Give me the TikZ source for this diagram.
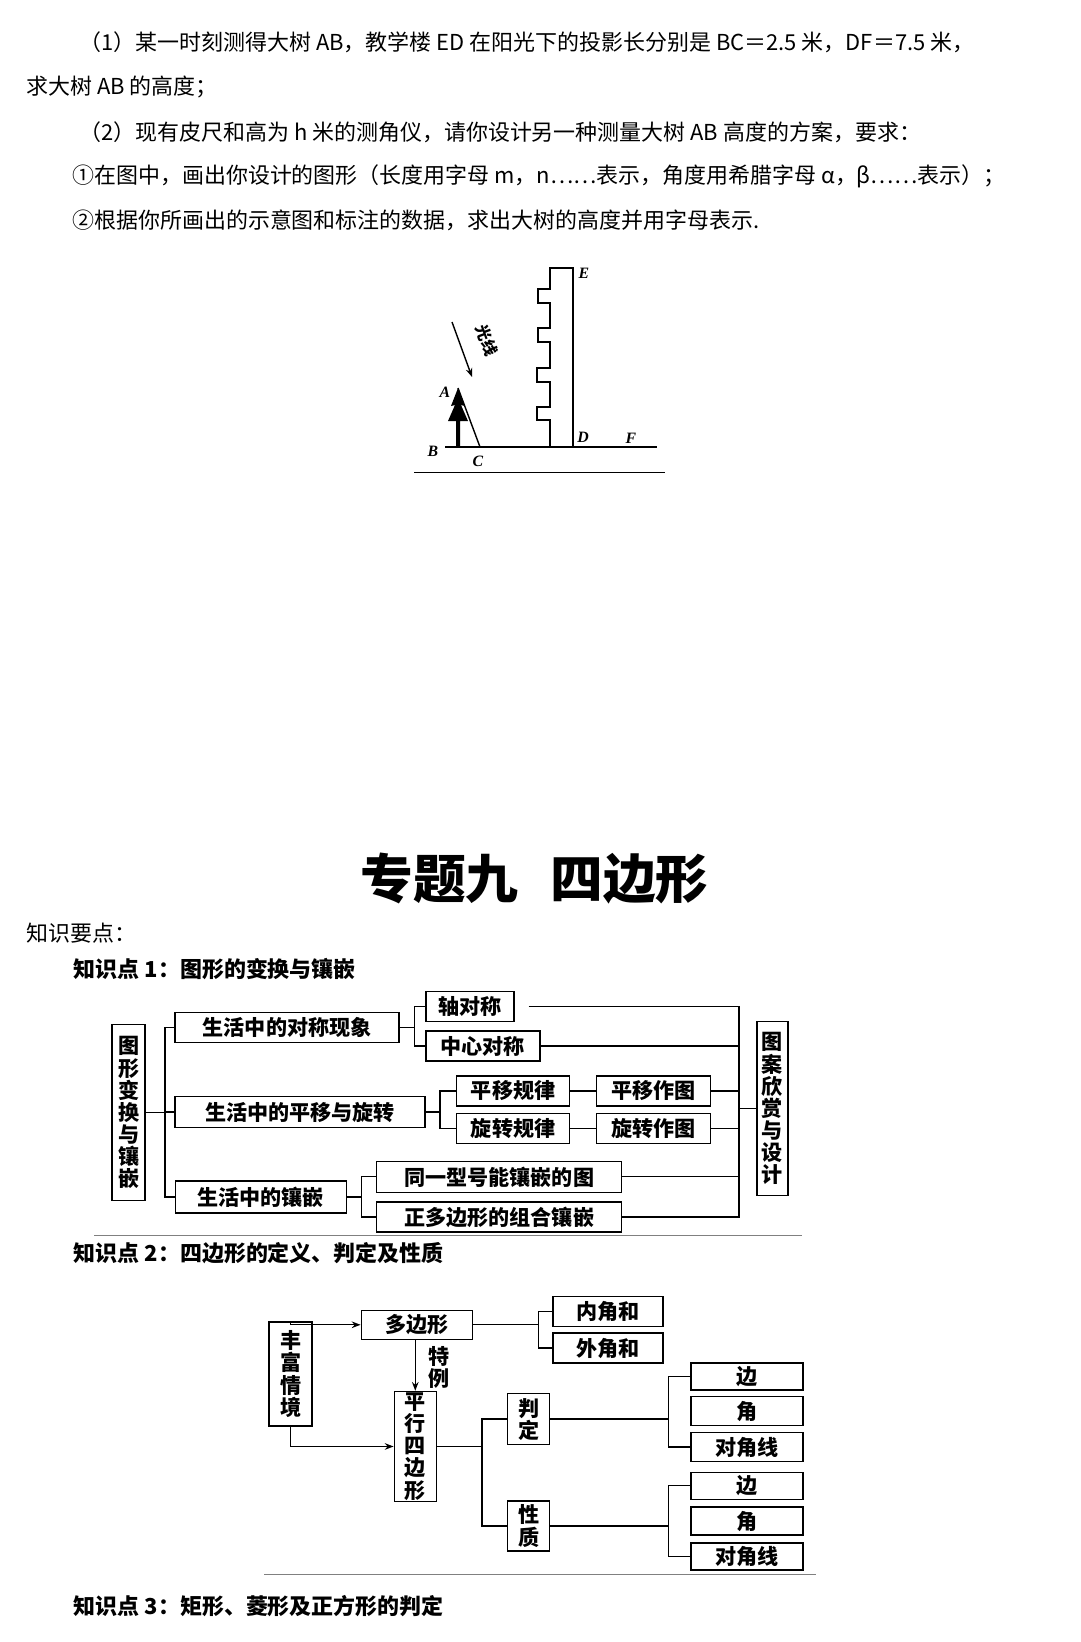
\documentclass[tikz,border=0pt]{standalone}
\usepackage{fontspec}
\setmainfont{Noto Sans CJK SC}
\newfontfamily\lat{Liberation Serif}
\usetikzlibrary{arrows.meta}
\begin{document}
\begin{tikzpicture}[
        x=0.02cm, y=-0.02cm,
        txt/.style={anchor=west, font=\fontsize{12.5}{14}\selectfont, inner sep=0pt},
        hd/.style={anchor=west, font=\fontsize{12.5}{14}\selectfont\bfseries, inner sep=0pt},
        box/.style={draw, thick, inner sep=0pt, align=center, font=\fontsize{12}{13.5}\selectfont\bfseries},
        vbox/.style={box, font=\fontsize{12}{12.6}\selectfont\bfseries},
        lbl/.style={font=\lat\bfseries\itshape\fontsize{9}{10}\selectfont, inner sep=0pt},
        conn/.style={thick},
        arr/.style={thick, -{Stealth[length=5pt]}},
    ]
    \useasboundingbox (0,0) rectangle (1080,1642);
    % question text
    \node[txt](q1) at (79,42) {（1）某一时刻测得大树 AB，教学楼 ED 在阳光下的投影长分别是 BC＝2.5 米，DF＝7.5 米，};
    \node[txt](q2) at (26,87) {求大树 AB 的高度；};
    \node[txt](q3) at (79,132) {（2）现有皮尺和高为 h 米的测角仪，请你设计另一种测量大树 AB 高度的方案，要求：};
    \node[txt](q4) at (72,176) {①在图中，画出你设计的图形（长度用字母 m，n……表示，角度用希腊字母 α，β……表示）；};
    \node[txt](q5) at (72,220) {②根据你所画出的示意图和标注的数据，求出大树的高度并用字母表示.};
    % tree and building
    \draw[line width=1.2pt] (445,447) -- (657,447);
    \draw[thin] (414,472) -- (665,472);
    \draw[line width=1.1pt] (550,447) -- (550,420) -- (537,420) -- (537,407) -- (550,407)
        -- (550,382) -- (537,382) -- (537,368) -- (550,368) -- (550,342) -- (538,342)
        -- (538,328) -- (550,328) -- (550,303) -- (538,303) -- (538,289) -- (550,289)
        -- (550,268) -- (573,268) -- (573,447);
    \fill (458,388) -- (451,406) -- (455,405) -- (448,421) -- (456,421) -- (456,447)
        -- (460,447) -- (460,421) -- (468,421) -- (461,405) -- (465,406) -- cycle;
    \draw[thick] (458,388) -- (480,447);
    \draw[arr] (452,322) -- (472,377);
    \node[rotate=-70, font=\bfseries\fontsize{9}{10}\selectfont] (gx) at (487,340) {光线};
    \node[lbl](A) at (445,392) {A};
    \node[lbl](B) at (433,451) {B};
    \node[lbl](C) at (478,461) {C};
    \node[lbl](D) at (583,437) {D};
    \node[lbl](E) at (584,273) {E};
    \node[lbl](F) at (631,438) {F};
    \begin{scope}[scale=0.9935]
    % title
    \node[font=\fontsize{30}{32}\selectfont\bfseries] (title) at (538,884) {专题九\hspace{0.6em}四边形};
    \node[txt](kp) at (26,939) {知识要点：};
    \node[hd](k1) at (74,975) {知识点 1：图形的变换与镶嵌};
    \node[hd](k2) at (74,1261) {知识点 2：四边形的定义、判定及性质};
    \node[hd](k3) at (74,1617) {知识点 3：矩形、菱形及正方形的判定};
    % chart 1
    \node[vbox, minimum width=0.66cm, minimum height=3.52cm](tx) at (129.5,1120) {图\\形\\变\\换\\与\\镶\\嵌};
    \node[box, minimum width=4.48cm, minimum height=0.6cm](dc) at (289,1034) {生活中的对称现象};
    \node[box, minimum width=1.76cm, minimum height=0.6cm](zhou) at (473,1013) {轴对称};
    \node[box, minimum width=2.28cm, minimum height=0.6cm](zx) at (486,1053) {中心对称};
    \node[box, minimum width=5.0cm, minimum height=0.62cm](pr) at (302,1119.5) {生活中的平移与旋转};
    \node[box, minimum width=2.26cm, minimum height=0.6cm](pygl) at (516.5,1098) {平移规律};
    \node[box, minimum width=2.26cm, minimum height=0.6cm](xzgl) at (516.5,1136) {旋转规律};
    \node[box, minimum width=2.28cm, minimum height=0.6cm](pyzt) at (658,1098) {平移作图};
    \node[box, minimum width=2.28cm, minimum height=0.6cm](xzzt) at (658,1136) {旋转作图};
    \node[box, minimum width=3.42cm, minimum height=0.64cm](xq) at (262.5,1205) {生活中的镶嵌};
    \node[box, minimum width=4.9cm, minimum height=0.62cm](ty) at (502.5,1184.5) {同一型号能镶嵌的图};
    \node[box, minimum width=4.9cm, minimum height=0.6cm](zd) at (502.5,1225) {正多边形的组合镶嵌};
    \node[vbox, minimum width=0.62cm, minimum height=3.48cm](ta) at (777.5,1116) {图\\案\\欣\\赏\\与\\设\\计};
    \coordinate (ba) at (166,0);
    \coordinate (bb) at (417,0);
    \coordinate (bc) at (443,0);
    \coordinate (bd) at (364,0);
    \coordinate (be) at (744,0);
    \draw[conn] (dc.west) -| (xq.west -| ba) -- (xq.west);
    \draw[conn] (tx.east) -- (tx.east -| ba);
    \draw[conn] (pr.west) -- (pr.west -| ba);
    \draw[conn] (zhou.west) -| (zx.west -| bb) -- (zx.west);
    \draw[conn] (dc.east) -- (dc.east -| bb);
    \draw[conn] (pygl.west) -| (xzgl.west -| bc) -- (xzgl.west);
    \draw[conn] (pr.east) -- (pr.east -| bc);
    \draw[conn] (ty.west) -| (zd.west -| bd) -- (zd.west);
    \draw[conn] (xq.east) -- (xq.east -| bd);
    \draw[conn] (pygl.east) -- (pyzt.west);
    \draw[conn] (xzgl.east) -- (xzzt.west);
    \draw[conn] ([xshift=8]zhou.east) -| (zd.east -| be) -- (zd.east);
    \draw[conn] (zx.east) -- (zx.east -| be);
    \draw[conn] (pyzt.east) -- (pyzt.east -| be);
    \draw[conn] (xzzt.east) -- (xzzt.east -| be);
    \draw[conn] (ty.east) -- (ty.east -| be);
    \draw[conn] (ta.west) -- (ta.west -| be);
    \draw[gray, thin] (95,1243) -- (807,1243);
    % chart 2
    \node[vbox, minimum width=0.86cm, minimum height=2.08cm](fq) at (292.5,1383) {丰\\富\\情\\境};
    \node[box, minimum width=2.22cm, minimum height=0.58cm](dbx) at (419.5,1333.5) {多边形};
    \node[box, minimum width=2.2cm, minimum height=0.6cm](nj) at (612,1320) {内角和};
    \node[box, minimum width=2.2cm, minimum height=0.6cm](wj) at (612,1357) {外角和};
    \node[vbox, minimum width=0.84cm, minimum height=2.2cm](px) at (418,1456) {平\\行\\四\\边\\形};
    \node[font=\fontsize{12}{12.6}\selectfont\bfseries, align=center, inner sep=0pt](tl) at (442,1376) {特\\例};
    \node[vbox, minimum width=0.84cm, minimum height=1.02cm](pd) at (532,1428.5) {判\\定};
    \node[vbox, minimum width=0.84cm, minimum height=1.0cm](xz) at (532,1536) {性\\质};
    \node[box, minimum width=2.24cm, minimum height=0.54cm](b1) at (752,1385.5) {边};
    \node[box, minimum width=2.24cm, minimum height=0.58cm](j1) at (752,1420.5) {角};
    \node[box, minimum width=2.24cm, minimum height=0.58cm](d1) at (752,1456.5) {对角线};
    \node[box, minimum width=2.24cm, minimum height=0.54cm](b2) at (752,1495.5) {边};
    \node[box, minimum width=2.24cm, minimum height=0.56cm](j2) at (752,1531) {角};
    \node[box, minimum width=2.24cm, minimum height=0.54cm](d2) at (752,1566.5) {对角线};
    \coordinate (ca) at (542,0);
    \coordinate (cb) at (485,0);
    \coordinate (cc) at (673,0);
    \draw[arr] (fq.north) |- (dbx.west);
    \draw[arr] (fq.south) |- (px.west);
    \draw[arr] (dbx.south -| px.north) -- (px.north);
    \draw[conn] (nj.west) -| (wj.west -| ca) -- (wj.west);
    \draw[conn] (dbx.east) -- (dbx.east -| ca);
    \draw[conn] (pd.west) -| (xz.west -| cb) -- (xz.west);
    \draw[conn] (px.east) -- (px.east -| cb);
    \draw[conn] (b1.west) -| (d1.west -| cc) -- (d1.west);
    \draw[conn] (pd.east) -- (pd.east -| cc);
    \draw[conn] (b2.west) -| (d2.west -| cc) -- (d2.west);
    \draw[conn] (xz.east) -- (xz.east -| cc);
    \draw[gray, thin] (266,1585) -- (821,1585);
    \end{scope}
\end{tikzpicture}
\end{document}
